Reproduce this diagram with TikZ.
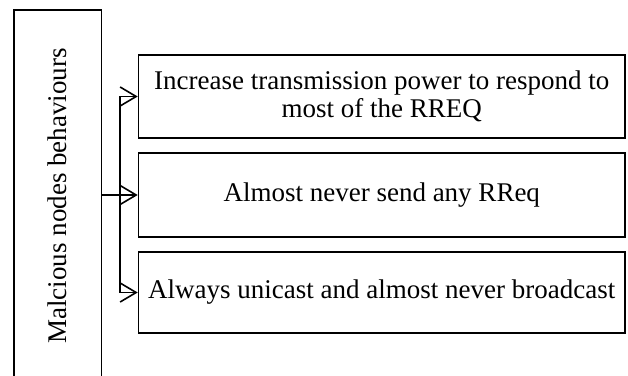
\documentclass[tikz,border=0pt]{standalone}
\usepackage{fontspec}
\setmainfont{Liberation Serif}
\usetikzlibrary{arrows.meta}
\begin{document}
\begin{tikzpicture}[x=1pt,y=-1pt,
  line width=1.6pt,
  txt/.style={font=\fontsize{27}{28}\selectfont},
  item/.style={draw, txt, align=center, inner sep=0pt,
    minimum width=486.5pt, minimum height=83pt},
  link/.style={-{Straight Barb[length=16pt,width=19pt,line width=1.6pt]}}]
\useasboundingbox (0,0) rectangle (628,375);
\clip (0,0) rectangle (628,375);
% tall source box, running off the lower edge
\node[draw, minimum width=87.5pt, minimum height=380pt, inner sep=0pt]
  (src) at (57.75,200) {};
\node[txt, rotate=90] (lbl) at (57,196) {Malcious nodes behaviours};
% behaviour boxes
\node[item] (b1) at (381.75,96.5) {Increase transmission power to respond to\\most of the RREQ};
\node[item, minimum height=84pt] (b2) at (381.75,195) {Almost never send any RReq};
\node[item, minimum height=81pt] (b3) at (381.75,292.5) {Always unicast and almost never broadcast};
% branching connectors
\coordinate (fork) at (120,195);
\draw (src.east |- b2.west) -- (fork);
\draw[link] (fork) |- (b1.west);
\draw[link] (fork) -- (b2.west);
\draw[link] (fork) |- (b3.west);
\end{tikzpicture}
\end{document}
